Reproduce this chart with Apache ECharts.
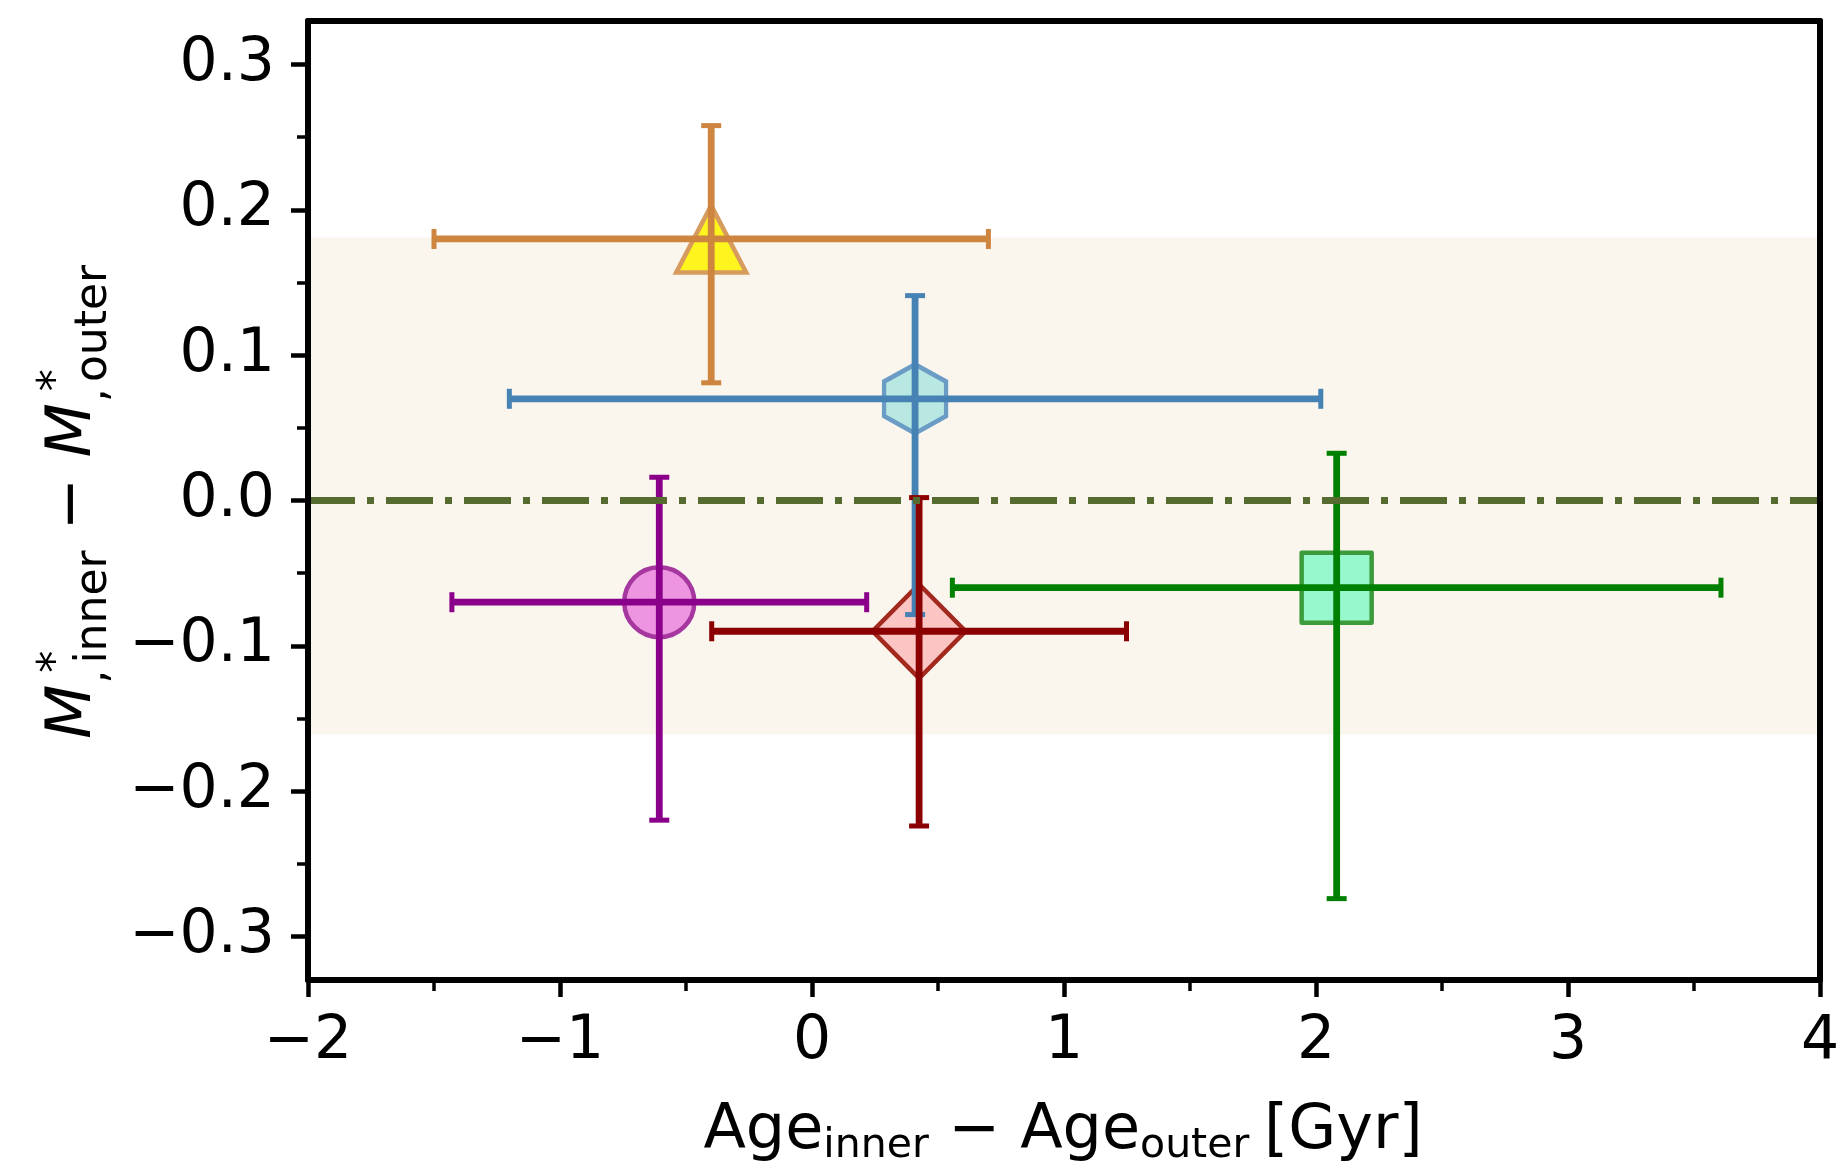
<!DOCTYPE html>
<html><head><meta charset="utf-8">
<script src="https://cdn.jsdelivr.net/npm/echarts@6/dist/echarts.min.js"></script>
<style>html,body{margin:0;padding:0;background:#fff}#c{width:1844px;height:1168px}</style>
</head><body><div id="c"></div>
<script>
// ---------------- data ----------------
const ageDiff      = [-0.40, 0.409, -0.606, 0.425, 2.082];     // Age_inner - Age_outer [Gyr]
const ageErr       = [1.10, 1.61, 0.823, 0.823, 1.525];
const massDiff     = [0.180, 0.070, -0.070, -0.090, -0.060];   // M*_inner - M*_outer
const massErrLow   = [0.099, 0.1485, 0.150, 0.134, 0.214];
const massErrHigh  = [0.078, 0.071, 0.086, 0.092, 0.0925];
const bandRange    = [-0.161, 0.181];
const zeroLine     = 0;
const xRange       = [-2, 4];
const yRange       = [-0.33, 0.33];
const yTicks       = [-0.3, -0.2, -0.1, 0, 0.1, 0.2, 0.3];
const yMinorTicks  = [-0.25, -0.15, -0.05, 0.05, 0.15, 0.25];

// ---------------- styles ----------------
const FONT = '"DejaVu Sans"';
const hexPath = 'path://M0,-1L0.866,-0.5L0.866,0.5L0,1L-0.866,0.5L-0.866,-0.5Z';
const markerStyles = [
  {symbol: 'triangle', size: [70, 67], fill: '#fef41e', edge: '#d79b5e', join: 'miter'},
  {symbol: hexPath,    size: [62, 69], fill: '#b9e8e2', edge: '#6a9cc6', join: 'miter'},
  {symbol: 'circle',   size: 70,       fill: '#ee95e1', edge: '#a5379f', join: 'round'},
  {symbol: 'diamond',  size: [93, 94], fill: '#fbc5c4', edge: '#a3281e', join: 'miter'},
  {symbol: 'rect',     size: [70, 70], fill: '#98f8cd', edge: '#3c9c3c', join: 'round'}
];
const barColors = ['#cd853f', '#4682b4', '#8b008b', '#8b0000', '#008000'];
const TICK_FS = 60, LABEL_FS = 63, SUB_FS = 44, XLABEL_FS = 62, XSUB_FS = 41;

const chart = echarts.init(document.getElementById('c'), null, {renderer: 'canvas', width: 1844, height: 1168});

const fmt = v => {
  const a = Math.abs(v) < 1e-9 ? 0 : v;
  return (a < 0 ? '\u2212' : '') + Math.abs(a).toFixed(1);
};
const fmtX = v => (v < 0 ? '\u2212' : '') + Math.abs(v).toString();

// ---------------- text measurement for labels ----------------
const cv = document.createElement('canvas').getContext('2d');
function fontStr(size, italic) { return (italic ? 'italic ' : '') + size + 'px ' + FONT; }
function textW(t, size, italic) { cv.font = fontStr(size, italic); cv.textBaseline = 'alphabetic'; return cv.measureText(t).width; }
function midOff(size, italic) {
  cv.font = fontStr(size, italic);
  cv.textBaseline = 'middle'; const a = cv.measureText('H').actualBoundingBoxAscent;
  cv.textBaseline = 'alphabetic'; const b = cv.measureText('H').actualBoundingBoxAscent;
  return b - a;
}
function txt(t, x, baseY, size, italic) {
  return {type: 'text', x: x, y: baseY - midOff(size, italic), z: 30,
    style: {text: t, font: fontStr(size, italic), fill: '#000', align: 'left', verticalAlign: 'middle'}};
}

// x label: Age_inner − Age_outer [Gyr]
function buildXLabel(cx, base) {
  const parts = [
    {t: 'Age', s: XLABEL_FS, dy: 0}, {t: 'inner', s: XSUB_FS, dy: 9},
    {t: ' \u2212 ', s: XLABEL_FS, dy: 0},
    {t: 'Age', s: XLABEL_FS, dy: 0}, {t: 'outer', s: XSUB_FS, dy: 9},
    {t: ' [Gyr]', s: XLABEL_FS, dy: 0, pre: -5}
  ];
  let W = 0; parts.forEach(p => { p.w = textW(p.t, p.s, false); W += p.w + (p.pre || 0); });
  let x = cx - W / 2; const kids = [];
  parts.forEach(p => { x += (p.pre || 0); kids.push(txt(p.t, x, base + p.dy, p.s, false)); x += p.w; });
  return {type: 'group', children: kids, z: 30};
}
// y label: M*_{,inner} − M*_{,outer}  (rotated)
function buildYLabel(baseX, cy) {
  const kids = []; let x = 0;
  function term(sub) {
    const wM = textW('M', LABEL_FS, true);
    kids.push(txt('M', x, 0, LABEL_FS, true));
    const xs = x + wM + 1;
    const wc = textW(',', SUB_FS, false);
    kids.push(txt(',', xs, 16, SUB_FS, false));
    const xi = xs + wc + 0.14 * SUB_FS;
    kids.push(txt(sub, xi, 16, SUB_FS, false));
    kids.push(txt('*', x + wM + 12, -21, SUB_FS, false));
    x = xi + textW(sub, SUB_FS, false);
  }
  term('inner');
  kids.push(txt(' \u2212 ', x, 0, LABEL_FS, false)); x += textW(' \u2212 ', LABEL_FS, false);
  term('outer');
  const W = x;
  return {type: 'group', x: baseX, y: cy + W / 2, rotation: Math.PI / 2, children: kids, z: 30};
}

// ---------------- series data ----------------
const scatterData = ageDiff.map((x, i) => ({
  value: [x, massDiff[i]],
  symbol: markerStyles[i].symbol,
  symbolSize: markerStyles[i].size,
  itemStyle: {color: markerStyles[i].fill, borderColor: markerStyles[i].edge, borderWidth: 4.5, borderJoin: markerStyles[i].join, opacity: 1}
}));
const errData = ageDiff.map((x, i) => [x, massDiff[i], x - ageErr[i], x + ageErr[i],
  massDiff[i] - massErrLow[i], massDiff[i] + massErrHigh[i], i]);

const CAP = 10;
function renderErr(params, api) {
  const x = api.value(0), y = api.value(1);
  const pl = api.coord([api.value(2), y]), pr = api.coord([api.value(3), y]);
  const pb = api.coord([x, api.value(4)]), pt = api.coord([x, api.value(5)]);
  const col = barColors[api.value(6)];
  const ls = {stroke: col, lineWidth: 6.8, fill: null};
  const cs = {stroke: col, lineWidth: 5, fill: null};
  const L = (x1, y1, x2, y2, s) => ({type: 'line', shape: {x1, y1, x2, y2}, style: s});
  return {type: 'group', children: [
    L(pl[0], pl[1], pr[0], pr[1], ls),
    L(pb[0], pb[1], pt[0], pt[1], ls),
    L(pl[0], pl[1] - CAP, pl[0], pl[1] + CAP, cs),
    L(pr[0], pr[1] - CAP, pr[0], pr[1] + CAP, cs),
    L(pb[0] - CAP, pb[1], pb[0] + CAP, pb[1], cs),
    L(pt[0] - CAP, pt[1], pt[0] + CAP, pt[1], cs)
  ]};
}
function renderBand(params, api) {
  const a = api.coord([api.value(0), api.value(3)]);
  const b = api.coord([api.value(1), api.value(2)]);
  return {type: 'rect', shape: {x: a[0], y: a[1], width: b[0] - a[0], height: b[1] - a[1]},
    style: {fill: '#faf6ee'}};
}

const axisLineStyle = {color: '#000', width: 6};
const option = {
  animation: false,
  backgroundColor: '#fff',
  grid: {left: 308, right: 24, top: 21, bottom: 188, containLabel: false},
  xAxis: [
    {type: 'value', position: 'bottom', min: xRange[0], max: xRange[1], interval: 1, z: 10,
      axisLine: {show: true, onZero: false, lineStyle: axisLineStyle},
      axisTick: {show: true, inside: false, length: 17, lineStyle: {color: '#000', width: 4.5}},
      minorTick: {show: true, splitNumber: 2, length: 11, lineStyle: {color: '#000', width: 3.5}},
      axisLabel: {show: true, margin: 32, fontFamily: FONT, fontSize: TICK_FS, color: '#000', formatter: fmtX,
        showMinLabel: true, showMaxLabel: true},
      splitLine: {show: false}, minorSplitLine: {show: false}},
    {type: 'value', position: 'top', min: xRange[0], max: xRange[1], interval: 1, z: 10,
      axisLine: {show: true, onZero: false, lineStyle: axisLineStyle},
      axisTick: {show: false}, axisLabel: {show: false}, splitLine: {show: false}}
  ],
  yAxis: [
    {type: 'value', position: 'left', min: yRange[0], max: yRange[1], z: 10,
      axisLine: {show: true, onZero: false, lineStyle: axisLineStyle},
      axisTick: {show: true, inside: false, length: 17, customValues: yTicks, lineStyle: {color: '#000', width: 4.5}},
      axisLabel: {show: true, margin: 33, customValues: yTicks, fontFamily: FONT, fontSize: TICK_FS, color: '#000', formatter: fmt},
      splitLine: {show: false}},
    {type: 'value', position: 'left', offset: 0, min: yRange[0], max: yRange[1], z: 10,
      axisLine: {show: false, onZero: false},
      axisTick: {show: true, inside: false, length: 11, customValues: yMinorTicks, lineStyle: {color: '#000', width: 3.5}},
      axisLabel: {show: false}, splitLine: {show: false}},
    {type: 'value', position: 'right', offset: 0, min: yRange[0], max: yRange[1], z: 10,
      axisLine: {show: true, onZero: false, lineStyle: axisLineStyle},
      axisTick: {show: false}, axisLabel: {show: false}, splitLine: {show: false}}
  ],
  series: [
    {type: 'custom', name: 'band', z: 1, silent: true, clip: true, xAxisIndex: 0, yAxisIndex: 0,
      renderItem: renderBand, data: [[xRange[0], xRange[1], bandRange[0], bandRange[1]]],
      encode: {x: [0, 1], y: [2, 3]}},
    {type: 'scatter', name: 'points', z: 2, silent: true, xAxisIndex: 0, yAxisIndex: 0, data: scatterData},
    {type: 'custom', name: 'errors', z: 3, silent: true, xAxisIndex: 0, yAxisIndex: 0,
      renderItem: renderErr, data: errData, encode: {x: [0, 2, 3], y: [1, 4, 5]}},
    {type: 'line', name: 'zero', z: 4, silent: true, xAxisIndex: 0, yAxisIndex: 0,
      showSymbol: false, symbol: 'none',
      data: [[xRange[0], zeroLine], [xRange[1], zeroLine]],
      lineStyle: {color: '#556b2f', width: 7, type: [47, 12, 7, 12], cap: 'butt'}}
  ],
  graphic: [buildXLabel(1063, 1148), buildYLabel(90, 502)]
};
chart.setOption(option);
</script>
</body></html>
